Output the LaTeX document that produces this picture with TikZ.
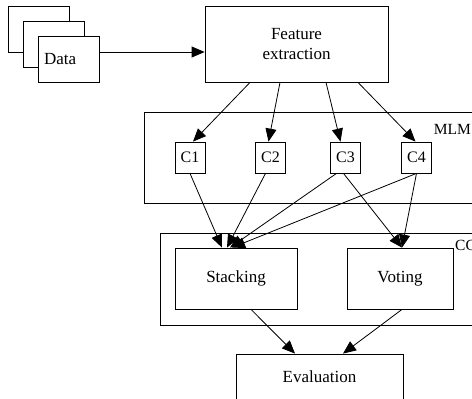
\documentclass[tikz,border=0pt]{standalone}
\usepackage{fontspec}
\setmainfont{Liberation Serif}
\usetikzlibrary{arrows.meta}

\tikzset{
  box/.style={draw, line width=0.8pt, fill=white, inner sep=0pt,
    font=\fontsize{17}{20}\selectfont, align=center},
  frame/.style={draw, line width=0.8pt},
  arr/.style={line width=0.8pt, -{Triangle[length=13pt,width=11pt]}}
}

\begin{document}
\begin{tikzpicture}[x=1pt,y=1pt]

\useasboundingbox (0,0) rectangle (472,-399);
\clip (0,0) rectangle (472,-399);

\node[box, minimum width=61pt, minimum height=46pt] (data3) at (38.5,-29) {};
\node[box, minimum width=61pt, minimum height=46pt] (data2) at (53.5,-44) {};
\node[box, minimum width=61pt, minimum height=46pt, text width=49pt, align=left] (data) at (68.5,-59) {Data\\[4pt]};

\node[box, minimum width=183pt, minimum height=76pt] (feat) at (296.5,-44)
{Feature\\extraction};

\draw[frame] (144,-112) rectangle (490,-203);
\node[font=\fontsize{15.5}{16}\selectfont, anchor=east, inner sep=0pt] (mlm) at (471,-129) {MLM};

\node[box, minimum width=30pt, minimum height=31pt, font=\fontsize{16}{18}\selectfont] (c1) at (190,-157.5) {C1};
\node[box, minimum width=30pt, minimum height=31pt, font=\fontsize{16}{18}\selectfont] (c2) at (270.5,-157.5) {C2};
\node[box, minimum width=30pt, minimum height=31pt, font=\fontsize{16}{18}\selectfont] (c3) at (345.5,-157.5) {C3};
\node[box, minimum width=30pt, minimum height=31pt, font=\fontsize{16}{18}\selectfont] (c4) at (416.5,-157.5) {C4};

\draw[frame] (160,-233) rectangle (490,-325);
\node[font=\fontsize{15.5}{16}\selectfont, anchor=west, inner sep=0pt] (cc) at (455,-245) {CC};

\node[box, minimum width=122pt, minimum height=61pt] (stack) at (236,-278.5) {Stacking};
\node[box, minimum width=106pt, minimum height=61pt] (vote) at (400,-278.5) {Voting};

\node[box, minimum width=167pt, minimum height=46pt] (eval) at (319.5,-377) {Evaluation};

\draw[arr] ([yshift=7pt]data.east) -- ([yshift=-8pt]feat.west);

\draw[arr] ([xshift=-46.5pt]feat.south) -- ([xshift=3pt]c1.north);
\draw[arr] ([xshift=-16.5pt]feat.south) -- ([xshift=-2pt]c2.north);
\draw[arr] ([xshift=29.5pt]feat.south) -- ([xshift=-5pt]c3.north);
\draw[arr] ([xshift=61.5pt]feat.south) -- ([xshift=-1pt]c4.north);

\draw[arr] (c1.south) -- ([xshift=-14pt]stack.north);
\draw[arr] ([xshift=-5pt]c2.south) -- ([xshift=-9pt]stack.north);
\draw[arr] ([xshift=-9pt]c3.south) -- ([xshift=-6pt]stack.north);
\draw[arr] (c4.south) -- ([xshift=-4pt]stack.north);
\draw[arr] ([xshift=-2pt]c3.south) -- ([xshift=2pt]vote.north);
\draw[arr] (c4.south) -- ([xshift=2pt]vote.north);

\draw[arr] ([xshift=15pt]stack.south) -- ([xshift=-24.5pt]eval.north);
\draw[arr] ([xshift=2pt]vote.south) -- ([xshift=23.5pt]eval.north);

\end{tikzpicture}
\end{document}
